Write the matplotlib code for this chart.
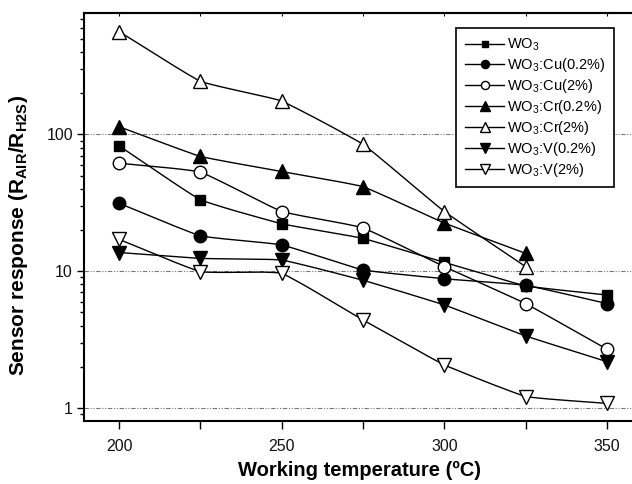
import numpy as np
import matplotlib
matplotlib.use("Agg")
import matplotlib.pyplot as plt
from matplotlib.ticker import LogLocator, FixedLocator, NullFormatter, FixedFormatter

plt.rcParams['font.family'] = ['Liberation Sans', 'DejaVu Sans']
plt.rcParams['mathtext.fontset'] = 'custom'
plt.rcParams['mathtext.rm'] = 'Liberation Sans'
plt.rcParams['mathtext.bf'] = 'Liberation Sans:bold'
plt.rcParams['mathtext.it'] = 'Liberation Sans'

temperature = [200, 225, 250, 275, 300, 325, 350]
temperature_cr = [200, 225, 250, 275, 300, 325]

wo3 = [82.6, 33.2, 22.2, 17.4, 11.6, 7.8, 6.7]
cu_02 = [31.4, 18.1, 15.6, 10.2, 8.8, 7.9, 5.8]
cu_2 = [61.7, 53.3, 27.3, 20.8, 10.8, 5.8, 2.69]
cr_02 = [114, 69, 53.6, 41.6, 22.5, 13.5]
cr_2 = [566, 244, 176, 85, 27.3, 10.8]
v_02 = [13.7, 12.4, 12.1, 8.6, 5.67, 3.36, 2.18]
v_2 = [17.1, 9.9, 9.7, 4.4, 2.06, 1.21, 1.08]

labels = [r'WO$_3$', r'WO$_3$:Cu(0.2%)', r'WO$_3$:Cu(2%)', r'WO$_3$:Cr(0.2%)',
          r'WO$_3$:Cr(2%)', r'WO$_3$:V(0.2%)', r'WO$_3$:V(2%)']

x_ticks = [200, 250, 300, 350]
y_ticks = [1, 10, 100]
y_tick_labels = ['1', '10', '100']


def smooth_curve(x, y, c=0.75, n=40):
    """Gently rounded curve through the data points (drawing only).
    Tangents blend the neighbouring chord slopes; c=1 gives a straight polyline."""
    x = np.asarray(x, float)
    y = np.asarray(y, float)
    k = len(x)
    d = np.diff(y) / np.diff(x)
    xs_all, ys_all = [], []
    for i in range(k - 1):
        hh = x[i + 1] - x[i]
        t = np.linspace(0, 1, n)
        h00 = 2 * t ** 3 - 3 * t ** 2 + 1
        h10 = t ** 3 - 2 * t ** 2 + t
        h01 = -2 * t ** 3 + 3 * t ** 2
        h11 = t ** 3 - t ** 2
        mid0 = 0.5 * (d[i - 1] + d[i]) if i > 0 else d[i]
        mid1 = 0.5 * (d[i] + d[i + 1]) if i + 1 < k - 1 else d[i]
        m0 = c * d[i] + (1 - c) * mid0
        m1 = c * d[i] + (1 - c) * mid1
        ys = h00 * y[i] + h10 * hh * m0 + h01 * y[i + 1] + h11 * hh * m1
        xs_all.append(x[i] + t * hh)
        ys_all.append(ys)
    return np.concatenate(xs_all), np.concatenate(ys_all)


fig = plt.figure(figsize=(6.32, 4.84), dpi=100)
ax = fig.add_axes([84 / 632, 1 - 421 / 484, 550 / 632, 408 / 484])

series = [
    (temperature, wo3, 's', 'black', 7.5),
    (temperature, cu_02, 'o', 'black', 9),
    (temperature, cu_2, 'o', 'white', 9),
    (temperature_cr, cr_02, '^', 'black', 10),
    (temperature_cr, cr_2, '^', 'white', 10),
    (temperature, v_02, 'v', 'black', 10),
    (temperature, v_2, 'v', 'white', 10),
]

handles = []
for (xv, yv, mk, fc, ms), lab in zip(series, labels):
    xs, ls = smooth_curve(xv, np.log10(yv))
    ax.plot(xs, 10 ** ls, color='black', lw=1.0, zorder=2)
    ax.plot(xv, yv, ls='none', marker=mk, mfc=fc, mec='black', mew=1.0, ms=ms, zorder=3)
    h, = ax.plot([], [], color='black', lw=1.0, marker=mk, mfc=fc, mec='black',
                 mew=1.0, ms=ms * 0.65, label=lab)
    handles.append(h)

ax.set_yscale('log')
ax.set_xlim(189.24, 358.3)
ax.set_ylim(0.803, 773)

for v in y_ticks:
    ax.axhline(v, color='#777777', lw=0.8, ls=(0, (4, 1.5, 1, 1.5, 1, 1.5)), zorder=1)

ax.xaxis.set_major_locator(FixedLocator(x_ticks))
ax.xaxis.set_minor_locator(FixedLocator([225, 275, 325]))
ax.yaxis.set_major_locator(FixedLocator(y_ticks))
ax.yaxis.set_major_formatter(FixedFormatter(y_tick_labels))
ax.yaxis.set_minor_locator(LogLocator(base=10, subs=np.arange(2, 10)))
ax.yaxis.set_minor_formatter(NullFormatter())

ax.tick_params(axis='both', which='major', direction='out', width=1.0, labelsize=11.5,
               color='black', labelcolor='#111111')
ax.tick_params(axis='x', which='both', length=6, width=1.0, pad=7)
ax.tick_params(axis='y', which='major', length=5, pad=3)
ax.tick_params(axis='y', which='minor', length=3, width=1.0, direction='out')

top = ax.secondary_xaxis('top')
top.xaxis.set_major_locator(FixedLocator([200, 225, 250, 275, 300, 325, 350]))
top.tick_params(axis='x', direction='in', length=2, width=0.8, labeltop=False)
top.spines['top'].set_linewidth(1.5)

for s in ['left', 'bottom', 'top', 'right']:
    ax.spines[s].set_linewidth(1.5)

ax.set_xlabel('Working temperature (ºC)', fontsize=14.5, fontweight='bold', labelpad=5)
ax.set_ylabel(r'Sensor response (R$_{\mathbf{AIR}}$/R$_{\mathbf{H2S}}$)',
              fontsize=15, fontweight='bold')
ax.yaxis.set_label_coords(-0.098, 0.456)

leg = ax.legend(handles=handles, loc='upper right', bbox_to_anchor=(0.964, 0.963),
                borderaxespad=0, fontsize=10.5, frameon=True, fancybox=False,
                edgecolor='black', framealpha=1, handlelength=2.7, handletextpad=0.2,
                labelspacing=0.2, borderpad=0.6)
leg.get_frame().set_linewidth(1.2)

fig.savefig('out.png', dpi=100)
